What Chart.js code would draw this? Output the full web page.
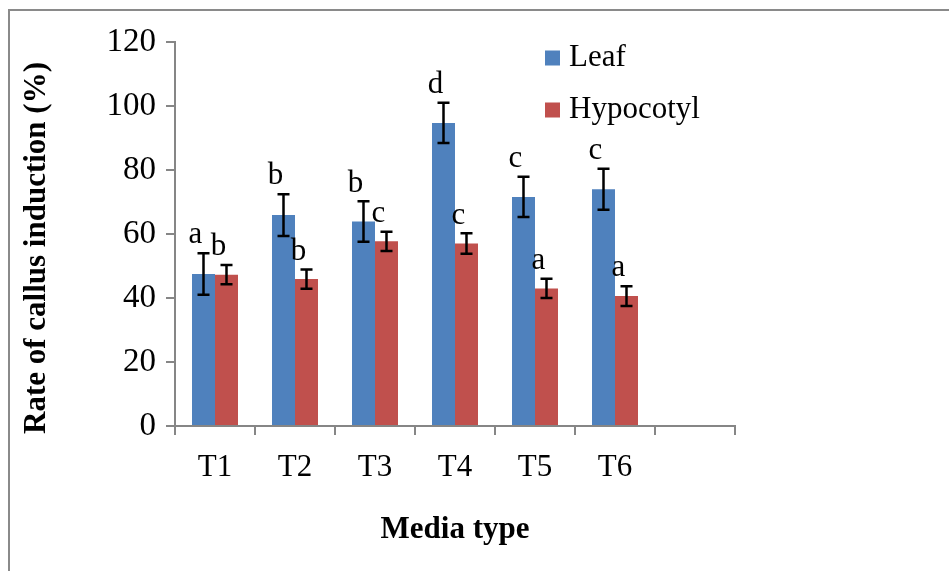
<!DOCTYPE html>
<html>
<head>
<meta charset="utf-8">
<script src="https://cdn.jsdelivr.net/npm/chart.js@4.4.1/dist/chart.umd.min.js"></script>
<style>
  html, body { margin: 0; padding: 0; background: #fff; overflow: hidden; }
  #wrap { position: relative; width: 949px; height: 571px; }
  #frame {
    position: absolute; left: 8px; top: 9px; width: 960px; height: 600px;
    border-top: 2px solid #8a8a8a; border-left: 2px solid #8a8a8a;
    pointer-events: none;
  }
  canvas { position: absolute; left: 0; top: 0; }
</style>
</head>
<body>
<div id="wrap">
  <canvas id="c" width="949" height="571"></canvas>
  <div id="frame"></div>
</div>
<script>
// Treatments (the last slot on the axis is left empty)
const categories = ['T1', 'T2', 'T3', 'T4', 'T5', 'T6', ''];
const seriesNames = ['Leaf', 'Hypocotyl'];

// Mean callus induction rate (%)
const leafValues = [47.5, 65.9, 63.9, 94.7, 71.6, 74.0];
const hypocotylValues = [47.3, 45.9, 57.7, 57.0, 43.0, 40.6];

// Standard errors
const leafErrors = [6.5, 6.5, 6.3, 6.3, 6.3, 6.4];
const hypocotylErrors = [3.0, 3.0, 3.0, 3.2, 3.0, 3.1];

// Significance letters
const leafLetters = ['a', 'b', 'b', 'd', 'c', 'c'];
const hypocotylLetters = ['b', 'b', 'c', 'c', 'a', 'a'];

// Y axis ticks
const yMin = 0, yMax = 120, yStep = 20;
const yTitle = 'Rate of callus induction (%)';
const xTitle = 'Media type';

const SERIF = "'Liberation Serif', 'Times New Roman', serif";
const AXIS_GREY = '#868686';

// Error bars and letters drawn on top of each bar
const barExtras = {
  id: 'barExtras',
  afterDatasetsDraw(chart) {
    const ctx = chart.ctx;
    const y = chart.scales.y;
    chart.data.datasets.forEach((ds, di) => {
      const meta = chart.getDatasetMeta(di);
      meta.data.forEach((bar, i) => {
        const v = ds.data[i];
        if (v == null) return;
        const err = ds.errors[i];
        const cx = bar.x;
        const top = y.getPixelForValue(v + err);
        const bot = y.getPixelForValue(v - err);
        const cap = 6;
        ctx.save();
        ctx.strokeStyle = '#000';
        ctx.lineWidth = 2.5;
        ctx.beginPath();
        ctx.moveTo(cx, top); ctx.lineTo(cx, bot);
        ctx.moveTo(cx - cap, top); ctx.lineTo(cx + cap, top);
        ctx.moveTo(cx - cap, bot); ctx.lineTo(cx + cap, bot);
        ctx.stroke();
        ctx.fillStyle = '#000';
        ctx.font = '31px ' + SERIF;
        ctx.textAlign = 'center';
        ctx.textBaseline = 'middle';
        ctx.fillText(ds.letters[i], cx - 8, top - 18);
        ctx.restore();
      });
    });
  }
};

// Legend inside the plot, stacked vertically, and the rotated y title
const annotations = {
  id: 'annotations',
  afterDraw(chart) {
    const ctx = chart.ctx;
    const x0 = 545, y0 = 58, gap = 52, box = 15;
    ctx.save();
    ctx.font = '31px ' + SERIF;
    ctx.textBaseline = 'middle';
    ctx.textAlign = 'left';
    chart.data.datasets.forEach((ds, i) => {
      const yy = y0 + i * gap;
      ctx.fillStyle = ds.backgroundColor;
      ctx.fillRect(x0, yy - box / 2, box, box);
      ctx.fillStyle = '#000';
      ctx.fillText(ds.label, x0 + 24, yy);
    });
    ctx.restore();

    ctx.save();
    ctx.translate(37, 248);
    ctx.rotate(-Math.PI / 2);
    ctx.font = 'bold 31px ' + SERIF;
    ctx.fillStyle = '#000';
    ctx.textAlign = 'center';
    ctx.textBaseline = 'middle';
    ctx.fillText(yTitle, 0, 0);
    ctx.restore();
  }
};

new Chart(document.getElementById('c'), {
  type: 'bar',
  data: {
    labels: categories,
    datasets: [
      {
        label: seriesNames[0],
        data: leafValues,
        errors: leafErrors,
        letters: leafLetters,
        backgroundColor: '#4F81BD',
        borderWidth: 0
      },
      {
        label: seriesNames[1],
        data: hypocotylValues,
        errors: hypocotylErrors,
        letters: hypocotylLetters,
        backgroundColor: '#C0504D',
        borderWidth: 0
      }
    ]
  },
  options: {
    responsive: false,
    animation: false,
    devicePixelRatio: 1,
    layout: { padding: { top: 42, right: 214, bottom: 0, left: 0 } },
    datasets: { bar: { categoryPercentage: 0.575, barPercentage: 1.0 } },
    plugins: {
      legend: { display: false },
      tooltip: { enabled: false }
    },
    scales: {
      x: {
        grid: {
          display: true, drawOnChartArea: false, offset: true,
          color: AXIS_GREY, lineWidth: 2, tickLength: 9
        },
        border: { color: AXIS_GREY, width: 2 },
        ticks: { color: '#000', font: { family: SERIF, size: 31 }, padding: 14, maxRotation: 0 },
        title: {
          display: true, text: xTitle, color: '#000',
          font: { family: SERIF, size: 31, weight: 'bold' }, padding: 22
        },
        afterFit(scale) { scale.height = 571 - 426; }
      },
      y: {
        min: yMin, max: yMax,
        grid: {
          display: true, drawOnChartArea: false,
          color: AXIS_GREY, lineWidth: 2, tickLength: 9
        },
        border: { color: AXIS_GREY, width: 2 },
        ticks: { stepSize: yStep, color: '#000', font: { family: SERIF, size: 33 }, padding: 10 },
        afterFit(scale) { scale.width = 175; }
      }
    }
  },
  plugins: [barExtras, annotations]
});
</script>
</body>
</html>
